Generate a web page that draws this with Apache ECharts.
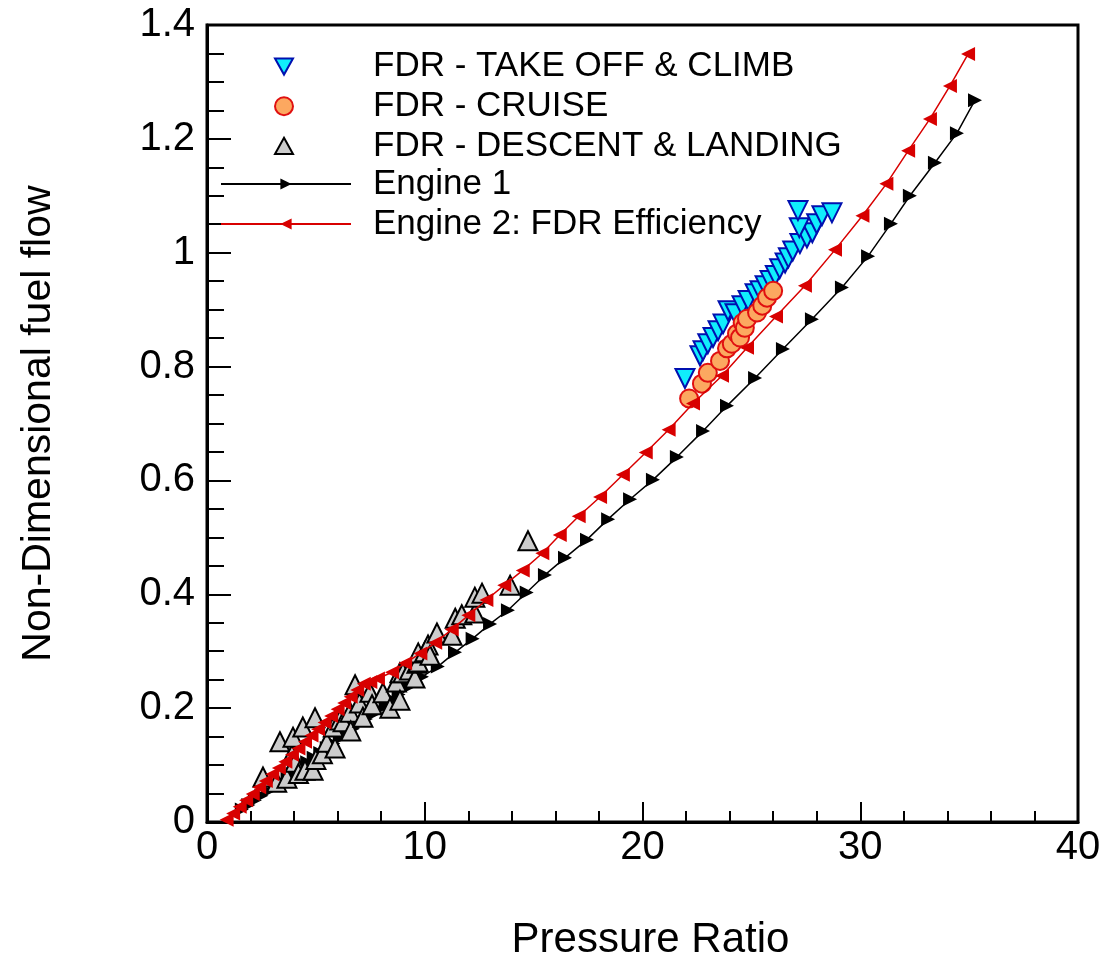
<!DOCTYPE html>
<html><head><meta charset="utf-8">
<script src="https://cdn.jsdelivr.net/npm/echarts@6/dist/echarts.min.js"></script>
<style>html,body{margin:0;padding:0;background:#fff}#c{width:1110px;height:956px}</style>
</head><body><div id="c"></div>
<script>
// ---- data ----
const climbX = [21.95,22.64,22.78,23.0,23.24,23.47,23.7,23.93,24.25,24.57,24.85,25.17,25.4,25.63,25.86,26.1,26.3,26.55,26.7,26.9,27.23,27.55,27.8,28.0,27.2,28.24,27.14,28.7];
const climbY = [0.779,0.819,0.828,0.840,0.851,0.863,0.875,0.898,0.893,0.907,0.916,0.928,0.933,0.942,0.951,0.960,0.972,0.982,0.991,1.003,1.016,1.026,1.035,1.051,1.044,1.065,1.074,1.070];

const cruiseX = [22.14,22.73,23.0,23.56,23.88,24.1,24.34,24.48,24.6,24.7,24.8,25.26,25.5,25.72,26.0];
const cruiseY = [0.744,0.770,0.789,0.810,0.832,0.840,0.858,0.851,0.877,0.868,0.884,0.895,0.907,0.921,0.933];

const descentX = [2.57,3.2,3.35,3.67,3.9,3.95,4.04,4.2,4.4,4.5,4.87,4.96,5.0,5.3,5.5,5.8,5.88,6.1,6.25,6.57,6.6,6.8,7.0,7.16,7.48,7.58,8.08,8.4,8.7,8.86,8.86,9.0,9.3,9.55,9.64,9.7,9.7,10.0,10.15,10.24,10.56,11.25,11.4,11.7,12.3,12.3,12.63,13.92,14.74];
const descentY = [0.079,0.070,0.141,0.077,0.118,0.149,0.105,0.085,0.167,0.091,0.091,0.183,0.110,0.120,0.140,0.167,0.130,0.179,0.176,0.193,0.160,0.241,0.209,0.184,0.228,0.206,0.227,0.200,0.246,0.214,0.262,0.262,0.267,0.253,0.279,0.281,0.297,0.299,0.311,0.293,0.332,0.328,0.358,0.364,0.367,0.395,0.402,0.416,0.494];

const engine1X = [1.6,1.9,2.2,2.5,2.8,3.1,3.4,3.7,4.0,4.3,4.6,4.9,5.2,5.5,5.8,6.1,6.4,6.7,7.0,7.3,7.6,7.9,8.2,8.5,8.8,9.3,9.87,10.6,11.39,12.2,13.0,13.82,14.68,15.52,16.44,17.45,18.42,19.43,20.48,21.58,22.78,23.88,25.17,26.45,27.78,29.16,30.36,31.41,32.28,33.43,34.44,35.27];
const engine1Y = [0.022,0.030,0.038,0.046,0.054,0.063,0.071,0.079,0.088,0.096,0.105,0.113,0.121,0.130,0.138,0.147,0.155,0.164,0.172,0.181,0.189,0.198,0.207,0.215,0.224,0.238,0.255,0.273,0.298,0.322,0.348,0.372,0.403,0.434,0.464,0.496,0.532,0.567,0.601,0.641,0.687,0.731,0.780,0.831,0.883,0.939,0.994,1.051,1.100,1.158,1.210,1.268];

const engine2X = [0.9,1.2,1.5,1.8,2.1,2.4,2.7,3.0,3.3,3.6,3.9,4.2,4.5,4.8,5.1,5.4,5.7,6.0,6.3,6.6,6.9,7.2,7.5,7.85,8.5,9.1,9.8,10.48,11.24,12.0,12.83,13.65,14.5,15.4,16.2,17.07,18.05,19.1,20.15,21.2,22.32,23.65,24.8,26.13,27.46,28.84,30.1,31.2,32.2,33.2,34.12,34.95];
const engine2Y = [0.004,0.015,0.027,0.038,0.049,0.061,0.072,0.084,0.095,0.106,0.118,0.129,0.141,0.152,0.163,0.175,0.186,0.198,0.209,0.220,0.232,0.243,0.246,0.252,0.263,0.279,0.296,0.315,0.338,0.363,0.390,0.416,0.442,0.472,0.504,0.537,0.571,0.610,0.649,0.689,0.735,0.784,0.833,0.888,0.942,1.005,1.065,1.121,1.179,1.235,1.293,1.349];

const xTicks = {min:0,max:40,interval:10};
const yTicks = {min:0,max:1.4,interval:0.2};

const names = ['FDR - TAKE OFF & CLIMB','FDR - CRUISE','FDR - DESCENT & LANDING','Engine 1','Engine 2: FDR Efficiency'];
const zip = (a,b)=>a.map((v,i)=>[v,b[i]]);

const FONT = '"Liberation Sans", Arial, Helvetica, sans-serif';
const legendText = {fontFamily:FONT,fontSize:35,color:'#000'};
const chart = echarts.init(document.getElementById('c'));
chart.setOption({
  animation:false,
  backgroundColor:'#fff',
  grid:{left:207,right:32,top:25,bottom:134,outerBoundsMode:'none',containLabel:false,show:true,borderColor:'#000',borderWidth:3,backgroundColor:'transparent'},
  legend:[
    {orient:'vertical',left:269,top:44,itemWidth:18,itemHeight:18,itemGap:4.7,selectedMode:false,
     data:[{name:names[0],icon:'path://M0,0L20,0L10,18Z'},{name:names[1],icon:'circle'},{name:names[2],icon:'path://M10,0L20,18L0,18Z'}],
     textStyle:Object.assign({padding:[0,0,0,75]},legendText)},
    {orient:'vertical',left:215,top:161.5,itemWidth:130,itemHeight:14,itemGap:5,selectedMode:false,
     data:[names[3],names[4]],
     textStyle:Object.assign({padding:[0,0,0,17]},legendText)}
  ],
  xAxis:{
    type:'value',min:xTicks.min,max:xTicks.max,interval:xTicks.interval,
    name:'Pressure Ratio',nameLocation:'middle',nameGap:97,
    nameTextStyle:{fontFamily:FONT,fontSize:42,color:'#000',padding:[0,0,0,16]},
    axisLine:{lineStyle:{color:'#000',width:3}},
    axisTick:{inside:true,length:20,lineStyle:{color:'#000',width:2}},
    minorTick:{show:true,splitNumber:5,length:11,lineStyle:{color:'#000',width:2}},
    splitLine:{show:false},
    axisLabel:{fontFamily:FONT,fontSize:40,color:'#000',margin:6}
  },
  yAxis:{
    type:'value',min:yTicks.min,max:yTicks.max,interval:yTicks.interval,
    name:'Non-Dimensional fuel flow',nameLocation:'middle',nameGap:148,
    nameTextStyle:{fontFamily:FONT,fontSize:41,color:'#000'},
    axisLine:{lineStyle:{color:'#000',width:3}},
    axisTick:{inside:true,length:24,lineStyle:{color:'#000',width:2}},
    minorTick:{show:true,splitNumber:4,length:17,lineStyle:{color:'#000',width:2}},
    splitLine:{show:false},
    axisLabel:{fontFamily:FONT,fontSize:40,color:'#000',margin:12}
  },
  series:[
    {name:names[0],type:'scatter',z:4,data:zip(climbX,climbY),symbol:'triangle',symbolRotate:180,symbolSize:19,
     itemStyle:{color:'#10eefc',borderColor:'#0010b0',borderWidth:2,opacity:1}},
    {name:names[1],type:'scatter',z:5,data:zip(cruiseX,cruiseY),symbol:'circle',symbolSize:18,
     itemStyle:{color:'#fca860',borderColor:'#e01010',borderWidth:2,opacity:1}},
    {name:names[2],type:'scatter',z:3,data:zip(descentX,descentY),symbol:'triangle',symbolSize:19,
     itemStyle:{color:'#cccccc',borderColor:'#000',borderWidth:2,opacity:1}},
    {name:names[3],type:'line',z:2,data:zip(engine1X,engine1Y),symbol:'triangle',symbolRotate:-90,symbolSize:14,showAllSymbol:true,
     lineStyle:{color:'#000',width:1.5},itemStyle:{color:'#000',borderWidth:0}},
    {name:names[4],type:'line',z:6,data:zip(engine2X,engine2Y),symbol:'triangle',symbolRotate:90,symbolSize:14,showAllSymbol:true,
     lineStyle:{color:'#d80000',width:1.5},itemStyle:{color:'#d80000',borderWidth:0}}
  ]
});
</script></body></html>
